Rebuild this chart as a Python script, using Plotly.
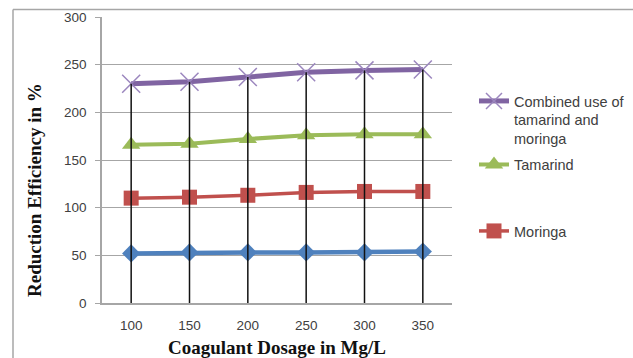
import plotly.graph_objects as go

dosage = ["100", "150", "200", "250", "300", "350"]
combined = [230, 232, 237, 242, 244, 245]
tamarind = [166, 167, 172, 176, 177, 177]
moringa = [110, 111, 113, 116, 117, 117]
series4 = [52, 53, 53, 53, 53, 54]

y_ticks = [0, 50, 100, 150, 200, 250, 300]

PL, PR, PT, PB = 102, 452, 17, 303
W, H = 633, 358
TICKFONT = dict(family="Liberation Sans", size=13.5, color="#404040")
LEGFONT = dict(family="Liberation Sans", size=14.5, color="#404040")

fig = go.Figure()

fig.add_trace(go.Scatter(x=dosage, y=series4, mode="lines+markers", name="Series 4",
                         showlegend=False,
                         line=dict(color="#4F81BD", width=4.5),
                         marker=dict(symbol="diamond", size=14, color="#4F81BD")))
fig.add_trace(go.Scatter(x=dosage, y=moringa, mode="lines+markers", name="Moringa",
                         legend="legend2",
                         line=dict(color="#C0504D", width=3.5),
                         marker=dict(symbol="square", size=15, color="#C0504D")))
fig.add_trace(go.Scatter(x=dosage, y=tamarind, mode="lines+markers", name="Tamarind",
                         legendgroup="b", legendrank=2,
                         line=dict(color="#9BBB59", width=4),
                         marker=dict(symbol="triangle-up", size=16, color="#9BBB59")))
fig.add_trace(go.Scatter(x=dosage, y=combined, mode="lines+markers",
                         name="Combined use of<br>tamarind and<br>moringa",
                         legendgroup="a", legendrank=1,
                         line=dict(color="#8064A2", width=5),
                         marker=dict(symbol="x-thin", size=18,
                                     line=dict(color="#9B86BE", width=1.5))))

# drop lines from top series to the axis
dx, dy = [], []
for c, v in zip(dosage, combined):
    dx += [c, c, None]
    dy += [0, v, None]
fig.add_trace(go.Scatter(x=dx, y=dy, mode="lines", showlegend=False, hoverinfo="skip",
                         line=dict(color="#111111", width=1.5)))

def px_x(p):
    return (p - PL) / (PR - PL)

def px_y(p):
    return (PB - p) / (PB - PT)

fig.update_layout(
    width=W, height=H,
    margin=dict(l=PL, r=W - PR, t=PT, b=H - PB, pad=0, autoexpand=False),
    paper_bgcolor="white", plot_bgcolor="white",
    font=dict(family="Liberation Sans", size=12, color="#404040"),
    legend=dict(x=px_x(474), y=px_y(85), xanchor="left", yanchor="top",
                traceorder="grouped", valign="top", itemwidth=30,
                font=LEGFONT, tracegroupgap=4, bgcolor="rgba(0,0,0,0)"),
    legend2=dict(x=px_x(474), y=px_y(215), xanchor="left", yanchor="top",
                 valign="top", itemwidth=30,
                 font=LEGFONT, bgcolor="rgba(0,0,0,0)"),
    xaxis=dict(type="category", range=[-0.5, 5.5], showgrid=False, automargin=False,
               showline=True, linecolor="#A6A6A6", linewidth=1.5,
               ticks="", tickfont=TICKFONT, ticklabelstandoff=9,
               title=dict(text="<b>Coagulant Dosage in Mg/L</b>", standoff=10,
                          font=dict(family="Liberation Serif", size=19, color="#111111"))),
    yaxis=dict(range=[0, 300], tickvals=y_ticks, showgrid=True, gridcolor="#A6A6A6",
               gridwidth=1.3, zeroline=False, automargin=False,
               showline=True, linecolor="#A6A6A6", linewidth=1.5,
               ticks="outside", ticklen=5, tickcolor="#A6A6A6", tickwidth=1.3,
               ticklabelstandoff=6, tickfont=TICKFONT),
    showlegend=True,
)

fig.add_annotation(text="<b>Reduction Efficiency in %</b>", textangle=-90,
                   xref="paper", yref="paper", x=px_x(34), y=px_y(190),
                   showarrow=False, xanchor="center", yanchor="middle",
                   font=dict(family="Liberation Serif", size=19, color="#111111"))

# outer chart border (top and left)
fig.add_shape(type="line", xref="paper", yref="paper",
              x0=px_x(13), y0=px_y(9.5), x1=px_x(640), y1=px_y(9.5),
              line=dict(color="#A6A6A6", width=1.5))
fig.add_shape(type="line", xref="paper", yref="paper",
              x0=px_x(13), y0=px_y(9.5), x1=px_x(13), y1=px_y(365),
              line=dict(color="#A6A6A6", width=1.5))

fig.write_html("out.html")
